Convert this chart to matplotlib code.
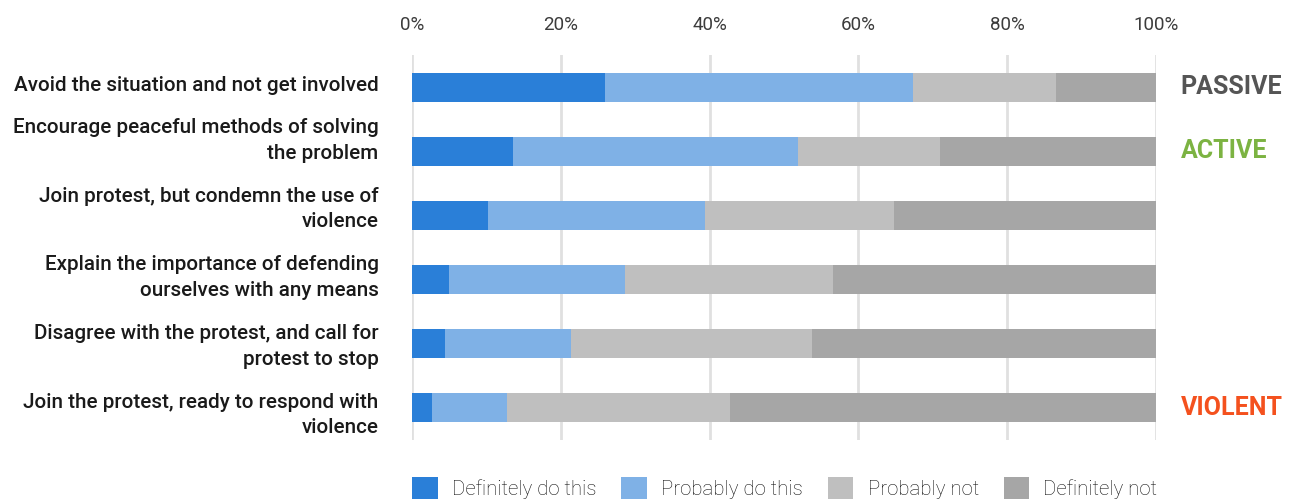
import matplotlib.pyplot as plt
import numpy as np

plt.rcParams['font.family'] = ['Roboto', 'DejaVu Sans']

categories = ["Avoid the situation and not get involved",
              "Encourage peaceful methods of solving\nthe problem",
              "Join protest, but condemn the use of\nviolence",
              "Explain the importance of defending\nourselves with any means",
              "Disagree with the protest, and call for\nprotest to stop",
              "Join the protest, ready to respond with\nviolence"]
series = ["Definitely do this", "Probably do this", "Probably not", "Definitely not"]
definitely_do = [25.9, 13.6, 10.2, 5.0, 4.4, 2.7]
probably_do = [41.4, 38.3, 29.2, 23.6, 17.0, 10.1]
probably_not = [19.3, 19.1, 25.4, 28.0, 32.4, 29.9]
definitely_not = [13.4, 29.0, 35.2, 43.4, 46.2, 57.3]
tags = {0: ("PASSIVE", "#555555"), 1: ("ACTIVE", "#7cb342"), 5: ("VIOLENT", "#f4511e")}

colors = ["#2a7fd8", "#7fb1e6", "#bfbfbf", "#a6a6a6"]

fig = plt.figure(figsize=(12.97, 5.03), dpi=100)
ax = fig.add_axes([412/1297, 1 - 440/503, 744/1297, 385/503])

y = np.arange(len(categories))
left = np.zeros(len(categories))
for name, vals, c in zip(series, [definitely_do, probably_do, probably_not, definitely_not], colors):
    ax.barh(y, vals, left=left, height=0.45, color=c, label=name, zorder=3)
    left += np.array(vals)

ax.set_xlim(0, 100)
ax.set_ylim(5.5, -0.5)
ax.set_xticks([0, 20, 40, 60, 80, 100])
ax.set_xticklabels(["0%", "20%", "40%", "60%", "80%", "100%"], fontsize=13.5,
                   fontweight='normal', color="#3c3c3c")
ax.xaxis.tick_top()
ax.tick_params(axis='x', length=0, pad=15)
ax.set_yticks([])
ax.grid(axis='x', color="#e0e0e0", linewidth=2, zorder=0)
for s in ax.spines.values():
    s.set_visible(False)

# category labels sit on a slightly wider spacing than the bars
for i, lab in enumerate(categories):
    ly = -0.02 if i == 0 else 0.83 + (i - 1) * 1.07
    ax.text(-0.045, ly, lab, transform=ax.get_yaxis_transform(), ha='right', va='center',
            fontsize=14.9, fontweight='medium', color="#1a1a1a", linespacing=1.45,
            multialignment='right')

for i, (txt, c) in tags.items():
    ax.text(103.3, y[i], txt, color=c, fontsize=18, fontweight='bold', va='center', ha='left')

leg = ax.legend(loc='upper left', bbox_to_anchor=(0.0, -0.096), ncol=4, frameon=False,
                handlelength=1.25, handleheight=1.25, handletextpad=0.7,
                columnspacing=1.22, borderaxespad=0, borderpad=0,
                prop={'weight': 'light', 'size': 14.7})
for t in leg.get_texts():
    t.set_color("#111111")

fig.savefig("out.png", dpi=100)
